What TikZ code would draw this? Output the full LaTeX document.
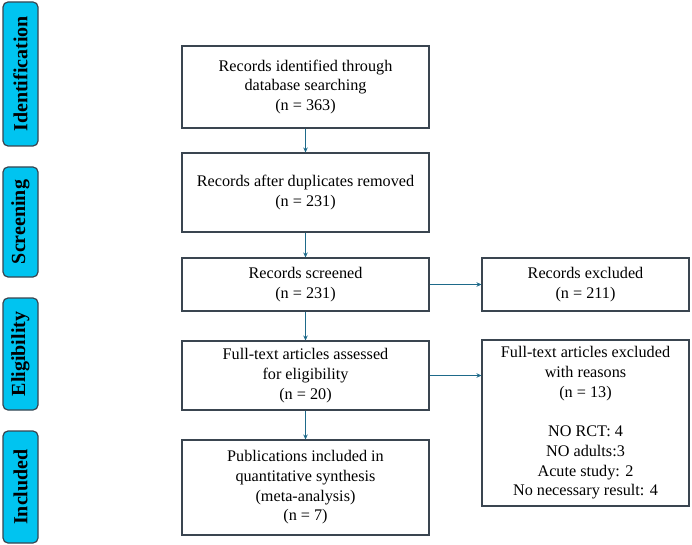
\documentclass[tikz,border=0pt]{standalone}
\usepackage{fontspec}
\setmainfont{Liberation Serif}
\usetikzlibrary{arrows.meta}
\definecolor{sidecyan}{HTML}{00C4F0}
\definecolor{edgegray}{HTML}{3A4550}
\definecolor{arrowteal}{HTML}{1E6A8A}
\tikzset{
  side/.style={draw=edgegray, line width=1.2pt, fill=sidecyan, rounded corners=5pt, inner sep=0pt},
  sidelabel/.style={rotate=90, font=\fontsize{20}{24}\selectfont\bfseries},
  mainbox/.style={draw=edgegray, line width=1.1pt, inner sep=0pt},
  boxtext/.style={align=center, font=\fontsize{16.2}{19.7}\selectfont},
  flow/.style={draw=arrowteal, line width=1pt, -{Stealth[length=5pt,width=4.5pt]}}
}
\begin{document}
\begin{tikzpicture}[x=1pt,y=-1pt]
\useasboundingbox (0,0) rectangle (692,545);
% side bars
\node[side, minimum width=35pt, minimum height=144pt] (sid) at (20.5,74) {};
\node[sidelabel] at (sid.center) {Identification};
\node[side, minimum width=35pt, minimum height=110pt] (sscr) at (20.5,222) {};
\node[sidelabel] at (sscr.center) {Screening};
\node[side, minimum width=35pt, minimum height=112pt] (selig) at (20.5,354) {};
\node[sidelabel] at (selig.center) {Eligibility};
\node[side, minimum width=35pt, minimum height=112pt] (sincl) at (20.5,487) {};
\node[sidelabel] at (sincl.center) {Included};
% main boxes
\node[mainbox, minimum width=247pt, minimum height=82pt] (b1) at (305.5,87) {};
\node[boxtext] at (b1.center) {Records identified through\\database searching\\(n = 363)};
\node[mainbox, minimum width=247pt, minimum height=79pt] (b2) at (305.5,192.5) {};
\node[boxtext] at (b2.center) {Records after duplicates removed\\(n = 231)};
\node[mainbox, minimum width=247pt, minimum height=53pt] (b3) at (305.5,284.5) {};
\node[boxtext] at (b3.center) {Records screened\\(n = 231)};
\node[mainbox, minimum width=247pt, minimum height=69pt] (b4) at (305.5,375.5) {};
\node[boxtext] at (b4.center) {Full-text articles assessed\\for eligibility\\(n = 20)};
\node[mainbox, minimum width=247pt, minimum height=95pt] (b5) at (305.5,487.5) {};
\node[boxtext] at (b5.center) {Publications included in\\quantitative synthesis\\(meta-analysis)\\(n = 7)};
% right boxes
\node[mainbox, minimum width=207pt, minimum height=53pt] (r1) at (585.5,284.5) {};
\node[boxtext] at (r1.center) {Records excluded\\(n = 211)};
\node[mainbox, minimum width=207pt, minimum height=166pt] (r2) at (585.5,423) {};
\node[boxtext] at (r2.center) {Full-text articles excluded\\with reasons\\(n = 13)\\[19.7pt]NO RCT: 4\\NO adults:3\\Acute study: 2\\No necessary result: 4};
% connectors
\draw[flow] (b1.south) -- (b2.north);
\draw[flow] (b2.south) -- (b3.north);
\draw[flow] (b3.south) -- (b4.north);
\draw[flow] (b4.south) -- (b5.north);
\draw[flow] (b3.east) -- (r1.west);
\draw[flow] (b4.east) -- (b4.east -| r2.west);
\end{tikzpicture}
\end{document}
